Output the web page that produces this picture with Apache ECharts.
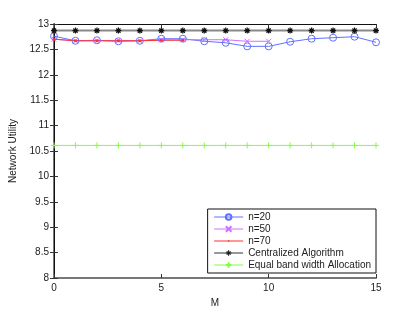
<!DOCTYPE html>
<html><head><meta charset="utf-8">
<script src="https://cdn.jsdelivr.net/npm/echarts@6/dist/echarts.min.js"></script>
<style>html,body{margin:0;padding:0;background:#fff}#c{width:415px;height:313px}</style>
</head><body><div id="c"></div>
<script>
const M = [0,1,2,3,4,5,6,7,8,9,10,11,12,13,14,15];
const n20 = [12.76,12.67,12.68,12.66,12.67,12.71,12.71,12.66,12.63,12.56,12.56,12.65,12.71,12.73,12.75,12.64];
const n50 = [12.70,12.67,12.67,12.67,12.67,12.69,12.69,12.69,12.69,12.66,12.66];
const n70 = [12.70,12.67,12.67,12.67,12.67,12.68,12.68];
const central = [12.87,12.87,12.87,12.87,12.87,12.87,12.87,12.87,12.87,12.87,12.87,12.87,12.87,12.87,12.87,12.87];
const equalBW = [10.61,10.61,10.61,10.61,10.61,10.61,10.61,10.61,10.61,10.61,10.61,10.61,10.61,10.61,10.61,10.61];
const names = ['n=20','n=50','n=70','Centralized Algorithm','Equal band width Allocation'];

const pairs = arr => arr.map((v,i)=>[M[i], v]);
const txt = '#222';
const chart = echarts.init(document.getElementById('c'));
const X_PATH = 'path://M0,0L10,10M10,0L0,10';
const STAR_PATH = 'path://M5,0L5,10M0,5L10,5M1.5,1.5L8.5,8.5M8.5,1.5L1.5,8.5';
const PLUS_PATH = 'path://M5,0L5,10M0,5L10,5';
const DOT_PATH = 'path://M0,0M20,20M7,10a3,3 0 1,0 6,0a3,3 0 1,0 -6,0Z';
function ser(name, data, color, symbol, size, lw, extra){
  return Object.assign({
    name, type:'line', data: pairs(data), symbol, symbolSize: size,
    lineStyle:{color, width: lw}, itemStyle:{color:'rgba(0,0,0,0)', borderColor: color, borderWidth:1},
    emphasis:{disabled:true}, animation:false, z:2
  }, extra||{});
}
chart.setOption({
  animation:false,
  grid:{left:54, right:39, top:24, bottom:35},
  legend:{
    orient:'vertical', right:39, bottom:40,
    backgroundColor:'#fff', borderColor:'#111', borderWidth:1,
    padding:[3,5,3,6], itemWidth:29, itemHeight:7, itemGap:2,
    lineStyle:{width:1},
    textStyle:{fontFamily:'Liberation Sans', fontSize:10, color:txt, lineHeight:10},
    data: [
      {name:names[0]},
      {name:names[1]},
      {name:names[2]},
      {name:names[3], lineStyle:{color:'#333', width:1}, itemStyle:{borderColor:'#111', borderWidth:1}},
      {name:names[4]}
    ]
  },
  xAxis:[{
    type:'value', min:0, max:15, interval:5, position:'bottom',
    name:'M', nameLocation:'middle', nameGap:16,
    nameTextStyle:{fontFamily:'Liberation Sans', fontSize:10, color:txt},
    axisLine:{lineStyle:{color:'#777', width:2}},
    axisTick:{inside:true, length:4, lineStyle:{color:'#333'}},
    axisLabel:{fontFamily:'Liberation Sans', fontSize:10, color:txt, margin:5},
    splitLine:{show:false}
  },{
    type:'value', min:0, max:15, interval:5, position:'top',
    axisLine:{lineStyle:{color:'#111', width:1}},
    axisTick:{inside:true, length:4, lineStyle:{color:'#333'}},
    axisLabel:{show:false}, splitLine:{show:false}
  }],
  yAxis:[{
    type:'value', min:8, max:13, interval:0.5, position:'left',
    name:'Network Utility', nameLocation:'middle', nameGap:27,
    nameTextStyle:{fontFamily:'Liberation Sans', fontSize:10, color:txt},
    axisLine:{lineStyle:{color:'#777', width:2}},
    axisTick:{inside:true, length:4, lineStyle:{color:'#333'}},
    axisLabel:{fontFamily:'Liberation Sans', fontSize:10, color:txt, margin:5},
    splitLine:{show:false}
  },{
    type:'value', min:8, max:13, interval:0.5, position:'right',
    axisLine:{lineStyle:{color:'#111', width:1}},
    axisTick:{inside:true, length:4, lineStyle:{color:'#333'}},
    axisLabel:{show:false}, splitLine:{show:false}
  }],
  series:[
    ser(names[0], n20, '#6070ff', 'circle', 7, 1),
    ser(names[1], n50, '#d070ff', X_PATH, 5, 1),
    ser(names[2], n70, '#ff3030', DOT_PATH, 10, 1, {itemStyle:{color:'#ff3030', borderColor:'#ff3030', borderWidth:0}}),
    ser(names[3], central, '#888', STAR_PATH, 6, 2, {itemStyle:{color:'rgba(0,0,0,0)', borderColor:'#111', borderWidth:1.2}}),
    ser(names[4], equalBW, '#80ff40', PLUS_PATH, 6, 1)
  ]
});
</script></body></html>
